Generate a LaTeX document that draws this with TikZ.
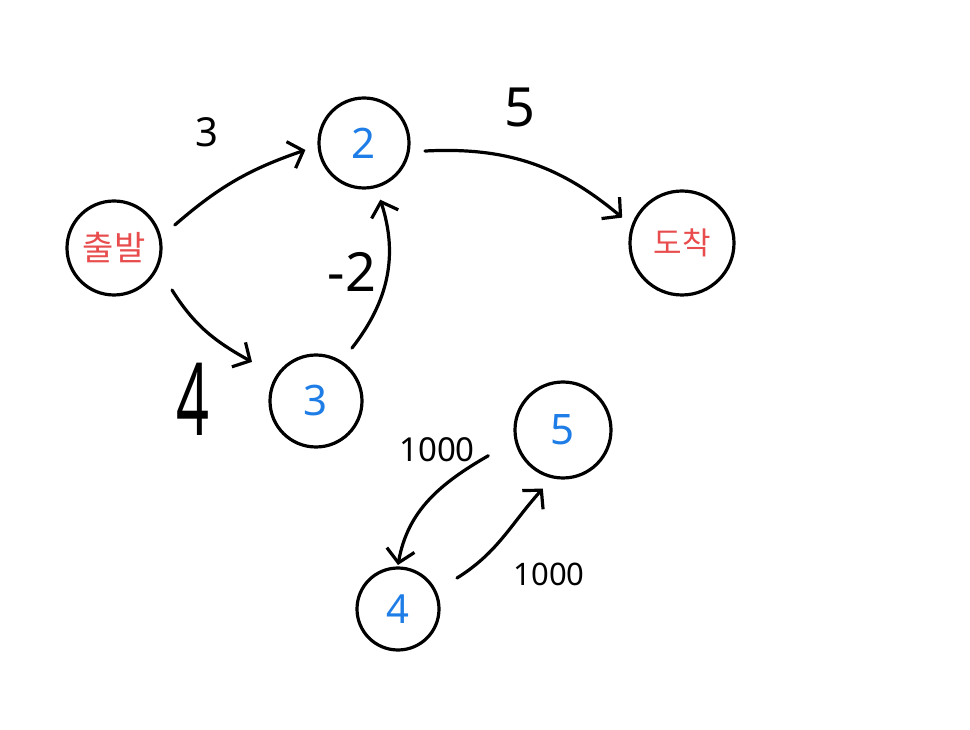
\documentclass[tikz,border=0pt]{standalone}
\usepackage{fontspec}
\setmainfont{Noto Sans}
\newfontfamily\krfont{Noto Sans CJK KR}
\usetikzlibrary{arrows.meta,calc}
\definecolor{nred}{RGB}{232,76,76}
\definecolor{nblue}{RGB}{30,125,230}
\begin{document}
\begin{tikzpicture}[x=1pt,y=1pt,
  vert/.style={circle,draw,line width=3.2pt,inner sep=0pt},
  numv/.style={vert,text=nblue,font=\fontsize{42}{42}\selectfont},
  korv/.style={vert,text=nred,font=\krfont\fontsize{34}{34}\selectfont},
  edge/.style={line width=3.2pt,line cap=round,
    -{Straight Barb[length=13pt,width=28pt,line width=3.2pt]}},
  lbl/.style={inner sep=0pt}]
\useasboundingbox (0,0) rectangle (970,729);
\fill[white] (0,0) rectangle (970,729);
% nodes
\node[korv,minimum size=94pt] (s) at (114,481) {출발};
\node[numv,minimum size=90pt] (n2) at (364,586) {2};
\node[korv,minimum size=104pt,font=\krfont\fontsize{31}{31}\selectfont] (e) at (682,486) {도착};
\node[numv,minimum size=92pt] (n3) at (316,328) {3};
\node[numv,minimum size=96pt] (n5) at (563,299) {5};
\node[numv,minimum size=82pt,font=\fontsize{40}{40}\selectfont] (n4) at (398,120) {4};
% edges
\draw[edge] ($(s)+(20.7:65)$) to[out=41,in=199] ($(n2)+(186.8:59)$);
\draw[edge] ($(s)+(-35.9:71.6)$) to[out=-58,in=151] ($(n3)+(148.6:75)$);
\draw[edge] ($(n3)+(55.8:64)$) to[out=52,in=-72] ($(n2)+(-74:59)$);
\draw[edge] ($(n2)+(-7.5:61.5)$) to[out=3,in=140] ($(e)+(157:65)$);
\draw[edge] ($(n5)+(199:79)$) to[out=210,in=80] ($(n4)+(90:44)$);
\draw[edge] ($(n4)+(27.7:66.6)$) to[out=32,in=228] ($(n5)+(251:62)$);
% labels
\node[lbl,font=\fontsize{40}{40}\selectfont] (l3) at (207,597) {3};
\node[lbl,font=\fontsize{72}{72}\selectfont,xscale=0.8,yscale=1.4] (l4) at (193,330) {4};
\node[lbl,font=\fontsize{54}{54}\selectfont] (lm2) at (352,457) {-2};
\node[lbl,font=\fontsize{54}{54}\selectfont] (l5) at (520,622) {5};
\node[lbl,font=\fontsize{33}{33}\selectfont] (la) at (437,279) {1000};
\node[lbl,font=\fontsize{31}{31}\selectfont] (lb) at (549,155) {1000};
\end{tikzpicture}
\end{document}
